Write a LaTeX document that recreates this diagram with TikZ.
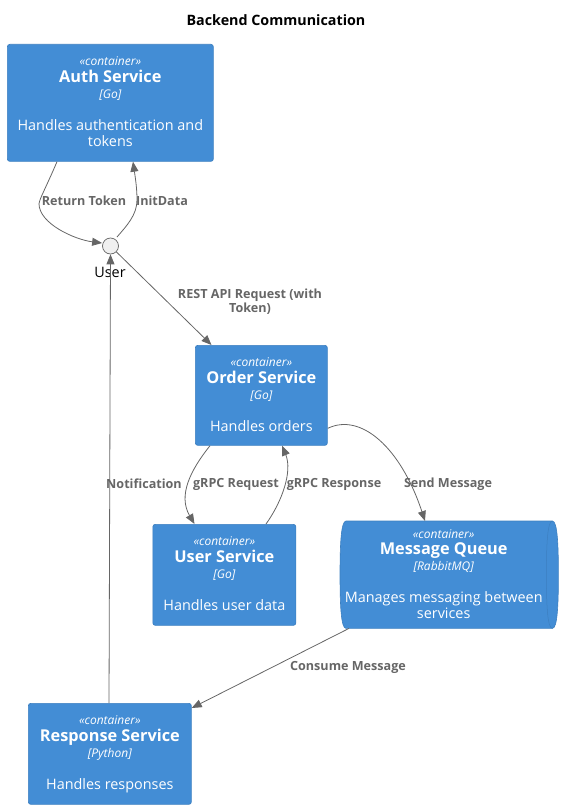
\documentclass[tikz,border=0pt]{standalone}
\usepackage{fontspec}
\setmainfont{Open Sans}
\usetikzlibrary{arrows.meta,calc,backgrounds}
\definecolor{cblue}{HTML}{438DD5}
\definecolor{cline}{HTML}{3C7FC0}
\definecolor{cgrey}{HTML}{666666}
\newcommand{\stl}{\vrule height 11.5pt depth 4.5pt width 0pt}
\newcommand{\ctext}[4]{\vbox{\offinterlineskip\halign{\hfil##\hfil\cr
  \stl{\fontsize{12}{15}\selectfont\itshape «container»}\cr
  \stl{\fontsize{16.3}{18}\selectfont\bfseries #1}\cr
  \stl{\fontsize{12}{15}\selectfont\itshape [#2]}\cr
  \stl\cr
  \stl{\fontsize{14.4}{16}\selectfont #3}\cr
  #4}}}
\newcommand{\dline}[1]{\stl{\fontsize{14.4}{16}\selectfont #1}\cr}
\tikzset{
  x=1pt,y=-1pt,
  box/.style={draw=cline,fill=cblue,line width=0.7pt,rounded corners=2.5pt,text=white,inner sep=0pt,anchor=north west},
  queue/.style={text=white,inner sep=0pt,anchor=north west},
  lab/.style={text=cgrey,font=\fontsize{12.6}{14}\selectfont\bfseries,align=center,inner sep=0pt},
  conn/.style={draw=cgrey,line width=0.8pt,-{Triangle[length=10pt,width=8pt,fill=cgrey]}}
}
\begin{document}
\begin{tikzpicture}
\useasboundingbox (0,0) rectangle (564,808);
\node[font=\fontsize{14.3}{16}\selectfont\bfseries,text=black,inner sep=0pt] (title) at (276,20) {Backend Communication};
\node[box,minimum width=206pt,minimum height=117pt] (auth) at (7,44) {\ctext{Auth Service}{Go}{Handles authentication and}{\dline{tokens}}};
\node[box,minimum width=132pt,minimum height=100pt] (order) at (195,345) {\ctext{Order Service}{Go}{Handles orders}{}};
\node[box,minimum width=143pt,minimum height=101pt] (usersvc) at (152.5,524) {\ctext{User Service}{Go}{Handles user data}{}};
\node[box,minimum width=163pt,minimum height=101pt] (resp) at (28,703) {\ctext{Response Service}{Python}{Handles responses}{}};
\node[queue,minimum width=218pt,minimum height=107pt] (mq) at (340,521) {\ctext{Message Queue}{RabbitMQ}{Manages messaging between}{\dline{services}}\kern11pt};
\begin{pgfonlayer}{background}
\path[draw=cline,fill=cblue,line width=0.6pt]
  ($(mq.north west)+(6,0)$) -- ($(mq.north east)+(-6,0)$)
  .. controls ($(mq.north east)+(-1,0)$) and ($(mq.east)+(0,-30)$) .. (mq.east)
  .. controls ($(mq.east)+(0,30)$) and ($(mq.south east)+(-1,0)$) .. ($(mq.south east)+(-6,0)$)
  -- ($(mq.south west)+(6,0)$)
  .. controls ($(mq.south west)+(1,0)$) and ($(mq.west)+(0,30)$) .. (mq.west)
  .. controls ($(mq.west)+(0,-30)$) and ($(mq.north west)+(1,0)$) .. ($(mq.north west)+(6,0)$) -- cycle;
\path[draw=cline,line width=0.5pt]
  ($(mq.north east)+(-6,0)$)
  .. controls ($(mq.north east)+(-11,0)$) and ($(mq.east)+(-12,-30)$) .. ($(mq.east)+(-12,0)$)
  .. controls ($(mq.east)+(-12,30)$) and ($(mq.south east)+(-11,0)$) .. ($(mq.south east)+(-6,0)$);
\end{pgfonlayer}
\node[circle,draw=cgrey,fill=black!6,line width=0.7pt,minimum size=16pt,inner sep=0pt] (user) at (110.5,246) {};
\node[font=\fontsize{14.4}{16}\selectfont,text=black,inner sep=0pt] (userlab) at (110,272) {User};
\node[lab] (l1) at (84,201) {Return Token};
\node[lab] (l2) at (162,201) {InitData};
\node[lab] (l3) at (250,302) {REST API Request (with\\Token)};
\node[lab] (l4) at (144,484) {Notification};
\node[lab] (l5) at (236,484) {gRPC Request};
\node[lab] (l6) at (334,484) {gRPC Response};
\node[lab] (l7) at (448,484) {Send Message};
\node[lab] (l8) at (348,667) {Consume Message};
\draw[conn] ($(auth.south west)+(50,0)$) .. controls ($(auth.south west)+(38,28)$) and ($(auth.south west)+(33,36)$) .. ($(auth.south west)+(32,42)$) .. controls ($(auth.south west)+(32,62)$) and ($(auth.south west)+(68,78)$) .. ($(user.west)+(0,-3)$);
\draw[conn] ($(user.center)+(6.5,-9)$) .. controls ($(user.center)+(16,-20)$) and ($(user.center)+(26.5,-31)$) .. ($(user.center)+(26.5,-46)$) .. controls ($(user.center)+(26.5,-59)$) and ($(auth.south west)+(128,14)$) .. ($(auth.south west)+(126,0)$);
\draw[conn] (user.south east) -- ($(order.north west)+(16.5,0)$);
\draw[conn] ($(resp.north west)+(81,0)$) -- (user.south);
\draw[conn] ($(order.south west)+(15,0)$) .. controls ($(order.south west)+(-5,25)$) and ($(order.south west)+(-17,50)$) .. ($(usersvc.north west)+(42,0)$);
\draw[conn] ($(usersvc.north west)+(113.5,0)$) .. controls ($(usersvc.north west)+(130,-23)$) and ($(usersvc.north west)+(140,-53)$) .. ($(order.south west)+(87,0)$);
\draw[conn] ($(order.east)+(0,33)$) .. controls ($(order.east)+(33,17)$) and ($(order.east)+(73,52)$) .. ($(mq.north west)+(85,0)$);
\draw[conn] ($(mq.south west)+(9,0)$) -- ($(resp.north east)+(0,5)$);
\end{tikzpicture}
\end{document}
